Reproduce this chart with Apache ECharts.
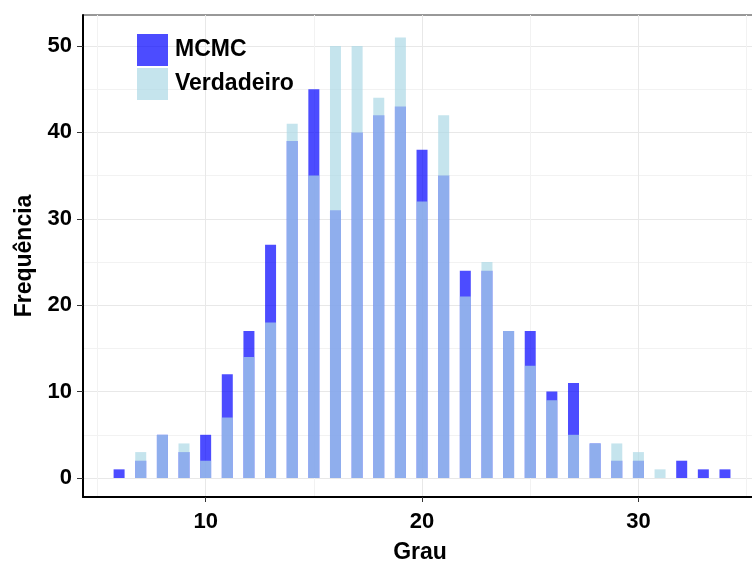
<!DOCTYPE html>
<html><head><meta charset="utf-8">
<script src="https://cdn.jsdelivr.net/npm/echarts@6/dist/echarts.min.js"></script>
<style>html,body{margin:0;padding:0;background:#fff}#c{width:752px;height:561px}</style>
</head><body><div id="c"></div>
<script>
const grau = [6,7,8,9,10,11,12,13,14,15,16,17,18,19,20,21,22,23,24,25,26,27,28,29,30,31,32,33,34];
const mcmc = [1,2,5,3,5,12,17,27,39,45,31,40,42,43,38,35,24,24,17,17,10,11,4,2,2,0,2,1,1];
const verdadeiro = [0,3,5,4,2,7,14,18,41,35,50,50,44,51,32,42,21,25,17,13,9,5,4,4,3,1,0,0,0];
const xTicks = [10,20,30];
const xMinor = [5,15,25,35];
const yTicks = [0,10,20,30,40,50];
const yMinor = [5,15,25,35,45];

const XMIN = 4.332, XMAX = 35.48, YMIN = -2.2, YMAX = 53.59;
const font = 'Liberation Sans, Arial, sans-serif';
const chart = echarts.init(document.getElementById('c'), null, {renderer:'canvas'});
const lab = {color:'#000', fontWeight:'bold', fontSize:22, fontFamily:font};
chart.setOption({
  animation:false,
  backgroundColor:'#fff',
  grid:{left:83, right:-5, top:15, bottom:64, outerBoundsMode:'none', containLabel:false,
        show:true, borderColor:'#333', borderWidth:1, backgroundColor:'#fff'},
  legend:{
    orient:'vertical', left:137, top:34, padding:0, itemWidth:31, itemHeight:32, itemGap:2,
    icon:'rect', textStyle:{color:'#000', fontWeight:'bold', fontSize:23, fontFamily:font, padding:[0,0,0,2]},
    data:['MCMC','Verdadeiro']
  },
  xAxis:[{
    type:'value', min:XMIN, max:XMAX,
    axisLine:{show:true, onZero:false, lineStyle:{color:'#000', width:2}},
    axisTick:{show:true, customValues:xTicks, length:5, lineStyle:{color:'#333', width:1}},
    axisLabel:Object.assign({customValues:xTicks, margin:14}, lab),
    splitLine:{show:true, lineStyle:{color:'#e8e8e8', width:1}},
    name:'Grau', nameLocation:'middle', nameGap:44,
    nameTextStyle:{color:'#000', fontWeight:'bold', fontSize:23, fontFamily:font}
  },{
    type:'value', min:XMIN, max:XMAX, position:'top',
    axisLine:{show:false}, axisLabel:{show:false},
    axisTick:{show:false, customValues:xMinor},
    splitLine:{show:true, lineStyle:{color:'#f2f2f2', width:1}}
  }],
  yAxis:[{
    type:'value', min:YMIN, max:YMAX,
    axisLine:{show:true, onZero:false, lineStyle:{color:'#000', width:2}},
    axisTick:{show:true, customValues:yTicks, length:6, lineStyle:{color:'#333', width:1}},
    axisLabel:Object.assign({customValues:yTicks, margin:11}, lab),
    splitLine:{show:true, lineStyle:{color:'#e8e8e8', width:1}},
    name:'Frequência', nameLocation:'middle', nameGap:45,
    nameTextStyle:{color:'#000', fontWeight:'bold', fontSize:23, fontFamily:font}
  },{
    type:'value', min:YMIN, max:YMAX, position:'right',
    axisLine:{show:false}, axisLabel:{show:false},
    axisTick:{show:false, customValues:yMinor},
    splitLine:{show:true, lineStyle:{color:'#f2f2f2', width:1}}
  }],
  series:[{
    name:'MCMC', type:'bar', xAxisIndex:0, yAxisIndex:0, barWidth:11, barGap:'-100%',
    itemStyle:{color:'rgba(0,0,255,0.7)'},
    data:grau.map((g,i)=>[g, mcmc[i]]), z:3
  },{
    name:'Verdadeiro', type:'bar', xAxisIndex:0, yAxisIndex:0, barWidth:11, barGap:'-100%',
    itemStyle:{color:'rgba(173,216,230,0.7)'},
    data:grau.map((g,i)=>[g, verdadeiro[i]]), z:4
  }]
});
</script></body></html>
